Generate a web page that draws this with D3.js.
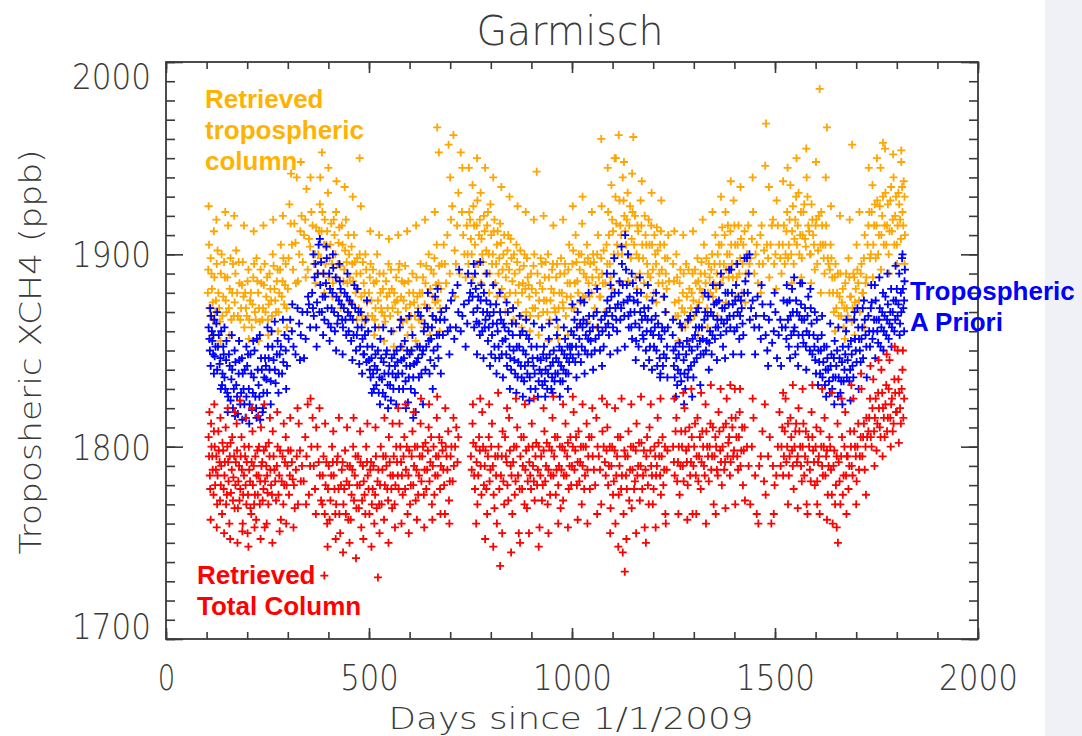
<!DOCTYPE html>
<html>
<head>
<meta charset="utf-8">
<script src="https://cdn.jsdelivr.net/npm/d3@7"></script>
<style>
  body { margin: 0; background: #fff; }
  svg { display: block; }
</style>
</head>
<body>
<div id="chart"></div>
<script>
// [day since 1/1/2009, XCH4 ppb]
const retrievedTrop = [
  [103,1880],[106,1905],[109,1868],[112,1890],[115,1875],[118,1912],[121,1870],[125,1895],[129,1880],[133,1865],[137,1900],[141,1878],[145,1888],[149,1870],[153,1915],[157,1882],[161,1866],[165,1895],[169,1875],[173,1902],[177,1868],[181,1885],[185,1872],[189,1896],[193,1862],
  [195,1880],[199,1868],[203,1892],[207,1876],[211,1862],[215,1888],[219,1870],[223,1898],[227,1880],[231,1865],[235,1885],[239,1872],[243,1895],[247,1878],[251,1866],[255,1890],[259,1876],[263,1900],[267,1882],[271,1870],[275,1892],[279,1880],[283,1905],[287,1886],[291,1874],[295,1895],[300,1882],
  [304,1926],[310,1905],[316,1916],[322,1940],[328,1900],[334,1920],[340,1910],[346,1934],[352,1908],[358,1922],[364,1895],[370,1914],
  [375,1900],[379,1926],[383,1912],[384,1953],[387,1890],[391,1918],[395,1905],[399,1932],[403,1898],[407,1916],[411,1885],[415,1910],[419,1922],[423,1895],[427,1914],[431,1880],[435,1905],[439,1892],[443,1918],[447,1885],[451,1900],[455,1875],[459,1895],[463,1910],[467,1880],[471,1898],[475,1872],[477,1950],[479,1890],[483,1868],[487,1885],[491,1900],[495,1875],
  [500,1880],[504,1895],[508,1868],[512,1885],[516,1872],[520,1900],[524,1862],[528,1880],[532,1870],[536,1890],[540,1865],[544,1878],[548,1895],[552,1868],[556,1882],[560,1860],[564,1875],
  [567,1888],[571,1870],[575,1895],[579,1878],[583,1865],[587,1885],[591,1872],[595,1858],[599,1880],[603,1868],[607,1890],[611,1875],[615,1855],[619,1878],[623,1866],[627,1895],[631,1880],[635,1862],[639,1885],[643,1872],[647,1900],[651,1882],[655,1868],[659,1890],[663,1875],[667,1905],[668,1966],[671,1885],[672,1953],[675,1872],[679,1895],
  [684,1905],[690,1885],[696,1957],[702,1918],[708,1962],[714,1895],[720,1932],[726,1953],[732,1910],[738,1888],
  [743,1900],[747,1922],[751,1908],[755,1936],[759,1915],[763,1895],[767,1928],[771,1910],[775,1932],[779,1900],[783,1920],[787,1890],[791,1915],[795,1900],[799,1926],[803,1895],[807,1912],[811,1885],[815,1905],[819,1890],[823,1916],[827,1882],[831,1900],[835,1878],[839,1895],[843,1910],[847,1880],[851,1898],[855,1872],[859,1890],[863,1905],[867,1875],[871,1892],[875,1868],[879,1885],[883,1900],[887,1870],[891,1888],[895,1878],
  [899,1890],[903,1872],[907,1900],[911,1880],[913,1943],[917,1868],[921,1885],[925,1895],[929,1870],[933,1888],[937,1876],[941,1900],[945,1866],[949,1882],[953,1895],[957,1872],[961,1888],[965,1862],[969,1880],[973,1898],[977,1875],[981,1890],[985,1868],[989,1885],[993,1905],[997,1878],[1001,1895],[1005,1872],[1009,1910],[1013,1886],[1017,1900],[1021,1875],[1025,1916],[1029,1890],[1033,1878],[1037,1905],[1041,1885],[1045,1895],
  [1048,1880],[1052,1900],[1056,1872],[1060,1892],[1064,1910],[1068,1878],[1072,1898],[1072,1960],[1076,1885],[1080,1870],
  [1085,1905],[1089,1922],[1093,1895],[1097,1936],[1101,1912],[1105,1950],[1109,1916],[1113,1900],[1115,1962],[1117,1928],[1121,1910],[1125,1940],[1129,1920],[1133,1905],[1137,1932],[1141,1915],[1145,1898],[1149,1922],[1151,1961],[1153,1905],[1157,1888],[1161,1915],[1165,1898],[1169,1928],[1173,1905],[1177,1885],[1181,1910],[1185,1895],[1189,1918],[1193,1888],[1197,1905],[1201,1880],[1205,1900],[1209,1914],[1213,1885],[1217,1905],[1221,1892],[1225,1878],[1229,1898],[1233,1882],[1237,1910],
  [1249,1895],[1253,1875],[1257,1900],[1261,1868],[1265,1885],[1269,1862],[1273,1880],[1277,1870],[1281,1895],[1285,1865],[1289,1882],[1293,1872],[1297,1890],[1301,1868],[1305,1885],[1309,1898],[1313,1875],[1317,1890],[1321,1880],[1325,1905],[1329,1885],[1333,1872],[1337,1895],[1341,1880],[1345,1900],[1349,1885],[1353,1910],[1357,1890],
  [1362,1905],[1366,1885],[1370,1914],[1374,1895],[1378,1922],[1382,1900],[1386,1888],[1390,1912],[1394,1895],[1398,1928],[1402,1905],[1406,1888],[1410,1915],[1414,1898],[1418,1880],[1422,1905],[1428,1890],[1434,1915],[1440,1898],[1446,1922],[1452,1900],[1458,1885],[1464,1910],[1470,1895],[1476,1946],[1478,1968],[1480,1905],[1486,1888],[1492,1915],[1498,1895],[1504,1928],[1510,1905],[1516,1890],[1522,1915],
  [1526,1900],[1530,1922],[1534,1905],[1538,1936],[1542,1912],[1546,1895],[1550,1918],[1554,1905],[1558,1932],[1562,1910],[1566,1898],[1570,1922],[1574,1908],[1578,1940],[1582,1915],[1586,1900],[1590,1926],[1594,1910],[1598,1892],[1602,1918],[1606,1902],[1610,1986],[1614,1922],[1618,1905],[1622,1890],[1626,1915],[1628,1966],[1630,1898],[1634,1880],
  [1637,1905],[1641,1888],[1645,1870],[1649,1895],[1653,1880],[1657,1868],[1661,1890],[1665,1875],[1669,1862],[1673,1885],[1677,1872],[1681,1898],[1685,1878],[1689,1865],[1690,1957],[1693,1890],[1697,1875],[1701,1905],[1705,1885],[1709,1870],[1713,1895],[1717,1880],[1721,1910],[1725,1888],
  [1728,1905],[1732,1922],[1736,1900],[1740,1936],[1744,1915],[1748,1898],[1752,1928],[1756,1910],[1760,1945],[1764,1920],[1766,1958],[1768,1905],[1772,1932],[1776,1915],[1780,1900],[1784,1928],[1788,1912],[1792,1940],[1796,1920],[1800,1905],[1804,1932],[1808,1918],[1811,1954],[1814,1922],[1817,1938],[1820,1910],
  [104,1892],[107,1872],[110,1898],[113,1882],[116,1866],[119,1888],[123,1876],[127,1902],[131,1872],[135,1890],[139,1868],[143,1896],[147,1876],[151,1888],[155,1872],[159,1898],[163,1880],[167,1868],[171,1890],[175,1880],[179,1896],[183,1866],[187,1884],[191,1878],
  [197,1872],[201,1886],[205,1866],[209,1880],[213,1874],[217,1895],[221,1866],[225,1886],[229,1872],[233,1892],[237,1866],[241,1884],[245,1870],[249,1888],[253,1874],[257,1882],[261,1868],[265,1894],[269,1876],[273,1886],[277,1870],[281,1892],[285,1878],[289,1898],[293,1884],[297,1872],
  [302,1898],[307,1916],[313,1892],[319,1906],[325,1886],[331,1912],[337,1896],[343,1918],[349,1892],[355,1904],[361,1915],[367,1900],
  [373,1890],[377,1912],[381,1898],[385,1922],[389,1905],[393,1895],[397,1912],[401,1888],[405,1905],[409,1895],[413,1918],[417,1900],[421,1888],[425,1906],[429,1894],[433,1915],[437,1886],[441,1902],[445,1896],[449,1910],[453,1888],[457,1904],[461,1886],[465,1896],[469,1890],[473,1882],[477,1900],[481,1878],[485,1896],[489,1880],[493,1892],[497,1868],
  [502,1888],[506,1876],[510,1892],[514,1866],[518,1886],[522,1876],[526,1890],[530,1872],[534,1882],[538,1868],[542,1886],[546,1872],[550,1880],[554,1892],[558,1872],[562,1880],
  [569,1876],[573,1892],[577,1866],[581,1886],[585,1876],[589,1894],[593,1866],[597,1886],[601,1874],[605,1862],[609,1880],[613,1868],[617,1888],[621,1872],[625,1880],[629,1866],[633,1888],[637,1874],[641,1894],[645,1880],[649,1872],[653,1892],[657,1878],[661,1898],[665,1884],[669,1876],[673,1894],[677,1882],
  [687,1895],[693,1910],[699,1890],[705,1925],[711,1902],[717,1915],[723,1890],[729,1922],[735,1900],
  [741,1915],[745,1895],[749,1918],[753,1900],[757,1925],[761,1905],[765,1915],[769,1895],[773,1918],[777,1908],[781,1896],[785,1912],[789,1902],[793,1922],[797,1890],[801,1910],[805,1900],[809,1918],[813,1895],[817,1912],[821,1898],[825,1906],[829,1892],[833,1910],[837,1888],[841,1902],[845,1892],[849,1908],[853,1886],[857,1900],[861,1880],[865,1896],[869,1884],[873,1902],[877,1880],[881,1894],[885,1882],[889,1898],[893,1884],[897,1868],
  [901,1882],[905,1894],[909,1872],[915,1890],[919,1876],[923,1898],[927,1882],[931,1876],[935,1896],[939,1870],[943,1888],[947,1876],[951,1892],[955,1880],[959,1870],[963,1895],[967,1872],[971,1890],[975,1880],[979,1872],[983,1895],[987,1878],[991,1892],[995,1885],[999,1872],[1003,1902],[1007,1885],[1011,1896],[1015,1880],[1019,1892],[1023,1900],[1027,1878],[1031,1896],[1035,1888],[1039,1898],[1043,1878],
  [1050,1888],[1054,1896],[1058,1884],[1062,1900],[1066,1888],[1070,1878],[1074,1890],[1078,1902],[1082,1885],
  [1087,1895],[1091,1910],[1095,1888],[1099,1918],[1103,1900],[1107,1930],[1111,1905],[1119,1915],[1123,1900],[1127,1928],[1131,1912],[1135,1918],[1139,1900],[1143,1925],[1147,1908],[1155,1920],[1159,1900],[1163,1912],[1167,1890],[1171,1915],[1175,1898],[1179,1920],[1183,1905],[1187,1890],[1191,1905],[1195,1915],[1199,1892],[1203,1910],[1207,1895],[1211,1902],[1215,1890],[1219,1912],[1223,1885],[1227,1905],[1231,1890],[1235,1898],[1239,1886],
  [1251,1886],[1255,1868],[1259,1888],[1263,1876],[1267,1892],[1271,1872],[1275,1890],[1279,1862],[1283,1878],[1287,1892],[1291,1866],[1295,1880],[1299,1876],[1303,1892],[1307,1872],[1311,1886],[1315,1882],[1319,1896],[1323,1878],[1327,1890],[1331,1898],[1335,1880],[1339,1888],[1343,1892],[1347,1878],[1351,1895],[1355,1882],[1359,1900],
  [1364,1895],[1368,1905],[1372,1888],[1376,1910],[1380,1892],[1384,1915],[1388,1900],[1392,1905],[1396,1888],[1400,1915],[1404,1895],[1408,1905],[1412,1890],[1416,1908],[1420,1895],[1425,1912],[1431,1900],[1437,1895],[1443,1908],[1449,1890],[1455,1905],[1461,1895],[1467,1915],[1473,1902],[1483,1898],[1489,1905],[1495,1918],[1501,1900],[1507,1915],[1513,1898],[1519,1905],[1524,1895],
  [1528,1912],[1532,1898],[1536,1918],[1540,1900],[1544,1925],[1548,1908],[1552,1930],[1556,1915],[1560,1900],[1564,1922],[1568,1910],[1572,1926],[1576,1904],[1580,1930],[1584,1912],[1588,1900],[1592,1918],[1596,1905],[1600,1915],[1604,1895],[1608,1920],[1612,1905],[1616,1915],[1620,1898],[1624,1905],[1632,1895],
  [1635,1892],[1639,1898],[1643,1880],[1647,1888],[1651,1872],[1655,1890],[1659,1878],[1663,1868],[1667,1882],[1671,1872],[1675,1890],[1679,1868],[1683,1888],[1687,1878],[1691,1872],[1695,1888],[1699,1882],[1703,1892],[1707,1876],[1711,1890],[1715,1880],[1719,1898],[1723,1885],
  [1730,1915],[1734,1898],[1738,1922],[1742,1905],[1746,1926],[1750,1915],[1754,1900],[1758,1925],[1762,1910],[1766,1930],[1770,1915],[1774,1905],[1778,1926],[1782,1912],[1786,1935],[1790,1918],[1794,1905],[1798,1930],[1802,1915],[1806,1926],[1810,1908],[1813,1935],[1816,1915],[1819,1930],
  [105,1925],[114,1858],[124,1918],[134,1855],[146,1922],[156,1858],[168,1920],[180,1855],[192,1915],[204,1856],[216,1912],[228,1855],[240,1915],[252,1858],[264,1918],[276,1860],[288,1920],[298,1862],
  [308,1942],[320,1885],[332,1948],[344,1888],[356,1940],[368,1885],
  [380,1940],[390,1880],[400,1945],[410,1878],[420,1938],[430,1872],[440,1935],[450,1870],[460,1930],[470,1866],[480,1925],[490,1865],
  [503,1912],[513,1858],[525,1910],[537,1855],[549,1908],[561,1852],
  [572,1910],[582,1852],[594,1912],[604,1850],[616,1915],[626,1852],[638,1918],[650,1858],[662,1922],[674,1860],
  [700,1940],[712,1878],[730,1945],
  [746,1945],[756,1888],[766,1950],[776,1885],[786,1945],[796,1880],[806,1940],[816,1878],[826,1935],[836,1870],[846,1930],[856,1866],[866,1925],[876,1862],[886,1922],[896,1860],
  [906,1918],[918,1858],[930,1920],[942,1855],[954,1915],[966,1856],[978,1918],[990,1858],[1002,1925],[1014,1862],[1026,1930],[1038,1865],[1049,1922],[1061,1862],[1073,1925],
  [1088,1945],[1098,1882],[1108,1950],[1118,1885],[1128,1948],[1138,1886],[1148,1942],[1160,1882],[1172,1938],[1184,1878],[1196,1932],[1208,1875],[1220,1928],[1232,1870],
  [1252,1912],[1262,1855],[1274,1910],[1286,1855],[1298,1912],[1310,1858],[1322,1918],[1334,1862],[1346,1922],[1358,1868],
  [1367,1930],[1379,1875],[1391,1938],[1403,1878],[1415,1935],[1427,1875],[1445,1940],[1465,1880],[1485,1935],[1503,1882],[1520,1938],
  [1531,1945],[1541,1885],[1553,1950],[1565,1888],[1577,1955],[1589,1885],[1601,1948],[1613,1880],[1625,1940],
  [1638,1925],[1648,1860],[1660,1920],[1672,1856],[1684,1918],[1696,1858],[1708,1922],[1720,1862],
  [1731,1945],[1741,1888],[1751,1950],[1761,1892],[1771,1955],[1781,1890],[1791,1952],[1801,1895],[1811,1948],[1819,1895]
];

const aPriori = [
  [105,1862],[108,1850],[111,1868],[114,1855],[117,1858],[120,1847],[124,1864],[128,1852],[132,1843],[136,1860],
  [139,1838],[142,1848],[146,1830],[149,1855],[153,1826],[157,1842],[161,1835],[165,1820],[169,1850],[173,1832],[177,1817],[181,1845],[185,1828],[189,1838],[193,1822],
  [196,1815],[200,1842],[204,1830],[208,1848],[212,1819],[216,1836],[220,1826],[224,1856],[228,1832],[232,1814],[236,1840],[240,1828],[244,1846],
  [247,1835],[251,1852],[255,1840],[260,1860],[265,1845],[270,1833],[275,1855],[280,1848],[286,1838],[292,1858],[298,1842],
  [306,1866],[314,1852],[324,1872],[332,1858],[340,1846],[348,1870],[355,1862],
  [360,1880],[364,1868],[368,1895],[372,1875],[376,1905],[380,1884],[384,1870],[388,1890],[392,1878],[396,1898],[400,1864],[404,1882],[408,1872],[412,1893],[416,1860],[420,1878],[424,1868],[428,1886],[432,1874],[436,1862],[440,1880],[444,1858],[448,1870],
  [452,1876],[456,1855],[460,1866],[464,1884],[468,1850],[472,1862],[476,1843],[480,1870],[484,1856],[488,1848],[492,1866],[496,1852],
  [500,1845],[504,1836],[508,1852],[512,1830],[516,1848],[520,1840],[524,1828],[528,1856],[532,1835],[536,1844],[540,1826],[544,1850],[548,1838],[552,1832],[556,1846],[560,1830],[564,1842],
  [568,1850],[572,1838],[576,1862],[580,1845],[584,1830],[588,1855],[592,1842],[596,1823],[600,1848],
  [603,1830],[607,1858],[611,1843],[615,1818],[619,1852],[623,1836],[627,1868],[631,1848],[635,1860],[639,1840],[643,1872],[647,1855],[651,1845],[655,1862],[659,1850],[663,1878],[667,1858],[671,1846],[675,1866],
  [682,1858],[690,1872],[698,1848],[706,1880],[714,1862],[722,1892],[730,1868],[738,1852],[746,1876],[752,1885],
  [757,1870],[761,1890],[765,1865],[769,1878],[773,1858],[777,1884],[781,1870],[785,1862],[789,1876],[793,1855],[797,1868],[801,1848],[805,1864],[809,1852],[813,1874],[817,1860],[821,1846],[825,1866],[829,1855],
  [834,1862],[838,1848],[842,1870],[846,1852],[850,1840],[854,1858],[858,1845],[862,1864],[866,1836],[870,1852],[874,1842],[878,1860],[882,1834],[886,1848],[890,1838],[894,1856],[898,1830],[903,1846],[908,1838],[913,1852],[918,1834],
  [923,1845],[927,1832],[931,1852],[935,1840],[939,1830],[943,1856],[947,1842],[951,1836],[955,1850],[959,1838],[963,1858],[967,1844],[971,1834],[975,1850],[979,1840],[983,1856],[987,1846],[991,1838],[995,1852],
  [998,1860],[1002,1846],[1006,1866],[1010,1852],[1014,1870],[1018,1856],[1022,1844],[1026,1862],[1030,1875],[1034,1858],[1038,1848],[1042,1868],[1046,1855],[1051,1862],[1056,1850],[1061,1870],[1066,1858],[1072,1866],[1078,1852],
  [1083,1862],[1087,1876],[1091,1858],[1095,1884],[1099,1868],[1103,1890],[1107,1872],[1111,1860],[1115,1880],[1119,1866],[1123,1895],[1127,1875],[1131,1910],[1135,1884],[1139,1868],
  [1142,1878],[1146,1862],[1150,1885],[1154,1870],[1158,1855],[1162,1875],[1166,1862],[1170,1880],[1174,1858],[1178,1872],[1182,1850],[1186,1866],[1190,1845],[1194,1860],[1198,1876],[1202,1852],[1206,1868],[1210,1842],[1214,1858],[1218,1838],[1222,1862],[1226,1848],[1230,1870],[1234,1852],
  [1248,1858],[1251,1842],[1255,1852],[1259,1832],[1263,1848],[1267,1838],[1271,1862],[1275,1845],[1279,1830],[1283,1855],[1287,1840],[1291,1868],[1295,1850],[1299,1836],[1303,1858],[1307,1846],[1311,1872],[1315,1855],
  [1320,1862],[1324,1848],[1328,1870],[1332,1855],[1336,1878],[1340,1860],[1344,1848],[1348,1868],[1352,1856],[1356,1875],[1360,1862],[1364,1884],[1368,1866],[1372,1852],[1376,1872],[1380,1860],[1384,1880],[1388,1868],[1392,1892],[1396,1874],[1400,1860],[1404,1884],[1408,1870],[1412,1856],[1416,1876],[1420,1864],[1424,1880],
  [1431,1898],[1435,1890],[1441,1872],[1449,1862],[1457,1878],[1465,1856],[1473,1868],[1481,1850],[1489,1874],[1497,1860],[1505,1846],[1513,1866],[1521,1876],
  [1526,1862],[1530,1875],[1534,1852],[1538,1868],[1542,1882],[1546,1860],[1550,1848],[1554,1870],[1558,1858],[1562,1885],[1566,1866],[1570,1854],[1574,1872],[1578,1860],[1582,1878],[1586,1850],[1590,1864],
  [1595,1858],[1599,1845],[1603,1866],[1607,1850],[1611,1838],[1615,1858],[1619,1844],[1623,1832],[1627,1852],[1631,1840],[1635,1828],[1639,1848],[1643,1836],[1647,1855],[1651,1842],[1655,1826],[1659,1846],[1663,1834],[1667,1852],[1671,1840],[1675,1860],[1679,1845],[1683,1834],[1687,1855],[1691,1842],[1695,1866],[1699,1850],[1703,1872],[1707,1856],[1711,1844],[1715,1862],[1719,1876],[1723,1858],
  [1730,1868],[1734,1852],[1738,1875],[1742,1860],[1746,1884],[1750,1866],[1754,1854],[1758,1872],[1762,1862],[1766,1880],[1770,1868],[1774,1858],[1778,1874],[1782,1864],[1786,1882],[1790,1870],[1794,1860],[1798,1876],[1802,1868],[1806,1890],[1810,1880],[1813,1898],[1816,1872],[1819,1886],
  [107,1856],[110,1842],[113,1860],[116,1848],[119,1866],[122,1852],[126,1840],[130,1858],[134,1846],[138,1832],[141,1852],[144,1836],[148,1845],[151,1828],[155,1848],[159,1824],[163,1840],[167,1830],[171,1844],[175,1826],[179,1838],[183,1822],[187,1846],[191,1830],[194,1840],
  [198,1826],[202,1848],[206,1822],[210,1838],[214,1828],[218,1850],[222,1820],[226,1840],[230,1826],[234,1846],[238,1818],[242,1836],[246,1842],[249,1828],[253,1846],[258,1834],[262,1852],[268,1840],[273,1848],[278,1838],[283,1852],[289,1844],[295,1850],[302,1856],
  [310,1860],[319,1848],[328,1864],[336,1870],[344,1856],[352,1874],
  [362,1872],[366,1888],[370,1862],[374,1890],[378,1870],[382,1896],[386,1878],[390,1866],[394,1885],[398,1872],[402,1890],[406,1862],[410,1880],[414,1870],[418,1888],[422,1864],[426,1876],[430,1882],[434,1866],[438,1872],[442,1866],[446,1878],[450,1860],
  [454,1868],[458,1874],[462,1858],[466,1872],[470,1858],[474,1870],[478,1852],[482,1862],[486,1848],[490,1858],[494,1844],[498,1860],
  [502,1840],[506,1846],[510,1838],[514,1842],[518,1832],[522,1850],[526,1836],[530,1846],[534,1828],[538,1838],[542,1848],[546,1832],[550,1842],[554,1824],[558,1838],[562,1848],[566,1836],
  [570,1844],[574,1830],[578,1852],[582,1838],[586,1846],[590,1834],[594,1850],[598,1836],[601,1842],
  [605,1850],[609,1836],[613,1828],[617,1844],[621,1846],[625,1852],[629,1838],[633,1850],[637,1864],[641,1852],[645,1862],[649,1838],[653,1856],[657,1868],[661,1842],[665,1866],[669,1852],[673,1858],[678,1870],
  [686,1866],[694,1860],[702,1876],[710,1856],[718,1884],[726,1860],[734,1874],[742,1864],[749,1880],
  [755,1878],[759,1862],[763,1882],[767,1872],[771,1864],[775,1876],[779,1860],[783,1880],[787,1866],[791,1870],[795,1862],[799,1874],[803,1858],[807,1870],[811,1846],[815,1864],[819,1852],[823,1870],[827,1848],[831,1864],
  [836,1856],[840,1842],[844,1860],[848,1846],[852,1864],[856,1850],[860,1838],[864,1852],[868,1844],[872,1858],[876,1836],[880,1850],[884,1842],[888,1858],[892,1844],[896,1836],[900,1852],[905,1842],[910,1830],[915,1846],[920,1840],
  [925,1838],[929,1848],[933,1834],[937,1846],[941,1838],[945,1848],[949,1830],[953,1844],[957,1834],[961,1846],[965,1838],[969,1852],[973,1842],[977,1834],[981,1848],[985,1838],[989,1852],[993,1844],[996,1848],
  [1000,1852],[1004,1858],[1008,1844],[1012,1862],[1016,1848],[1020,1864],[1024,1852],[1028,1866],[1032,1850],[1036,1864],[1040,1856],[1044,1860],[1048,1848],[1053,1868],[1058,1856],[1064,1862],[1069,1850],[1075,1860],[1081,1868],
  [1085,1870],[1089,1864],[1093,1872],[1097,1878],[1101,1862],[1105,1880],[1109,1866],[1113,1874],[1117,1886],[1121,1872],[1125,1884],[1129,1868],[1133,1892],[1137,1876],[1140,1862],
  [1144,1870],[1148,1856],[1152,1876],[1156,1864],[1160,1880],[1164,1852],[1168,1870],[1172,1866],[1176,1856],[1180,1868],[1184,1860],[1188,1872],[1192,1852],[1196,1866],[1200,1858],[1204,1862],[1208,1850],[1212,1864],[1216,1846],[1220,1856],[1224,1842],[1228,1860],[1232,1846],[1236,1862],
  [1250,1850],[1253,1836],[1257,1846],[1261,1840],[1265,1854],[1269,1834],[1273,1852],[1277,1838],[1281,1848],[1285,1836],[1289,1852],[1293,1842],[1297,1856],[1301,1844],[1305,1862],[1309,1852],[1313,1862],[1317,1848],
  [1322,1856],[1326,1866],[1330,1850],[1334,1868],[1338,1854],[1342,1870],[1346,1858],[1350,1874],[1354,1862],[1358,1866],[1362,1876],[1366,1858],[1370,1872],[1374,1864],[1378,1880],[1382,1866],[1386,1874],[1390,1862],[1394,1880],[1398,1868],[1402,1876],[1406,1862],[1410,1878],[1414,1868],[1418,1872],[1422,1858],[1427,1886],
  [1433,1880],[1438,1866],[1445,1876],[1453,1868],[1461,1862],[1469,1874],[1477,1858],[1485,1866],[1493,1854],[1501,1870],[1509,1858],[1517,1862],
  [1528,1856],[1532,1866],[1536,1876],[1540,1858],[1544,1870],[1548,1862],[1552,1876],[1556,1852],[1560,1868],[1564,1874],[1568,1858],[1572,1866],[1576,1852],[1580,1868],[1584,1858],[1588,1872],[1592,1848],
  [1597,1852],[1601,1838],[1605,1856],[1609,1844],[1613,1850],[1617,1836],[1621,1852],[1625,1840],[1629,1846],[1633,1834],[1637,1842],[1641,1830],[1645,1846],[1649,1836],[1653,1850],[1657,1836],[1661,1828],[1665,1844],[1669,1834],[1673,1848],[1677,1836],[1681,1852],[1685,1840],[1689,1848],[1693,1836],[1697,1856],[1701,1844],[1705,1862],[1709,1850],[1713,1856],[1717,1846],[1721,1866],[1725,1852],
  [1732,1860],[1736,1872],[1740,1856],[1744,1866],[1748,1876],[1752,1860],[1756,1866],[1760,1852],[1764,1870],[1768,1860],[1772,1878],[1776,1866],[1780,1856],[1784,1870],[1788,1862],[1792,1876],[1796,1866],[1800,1882],[1804,1874],[1808,1864],[1811,1870],[1815,1882],[1818,1876],[1820,1892],
  [109,1872],[118,1838],[126,1870],[135,1830],[144,1862],[152,1818],[162,1858],[170,1816],[180,1855],[188,1814],[198,1852],[205,1812],[215,1855],[223,1815],[231,1858],[239,1820],[250,1862],[258,1822],[268,1865],[277,1828],[288,1866],[296,1830],
  [311,1874],[330,1845],[350,1878],
  [363,1900],[371,1852],[379,1908],[387,1858],[395,1904],[403,1855],[411,1900],[419,1850],[427,1895],[435,1848],[447,1890],[459,1845],[471,1882],[483,1838],[495,1876],
  [507,1828],[515,1862],[527,1822],[535,1862],[547,1820],[555,1860],[567,1822],[579,1866],[591,1820],[599,1868],
  [609,1815],[621,1870],[633,1822],[645,1880],[657,1830],[669,1882],[677,1838],
  [700,1862],[720,1870],[744,1890],
  [758,1895],[766,1848],[774,1896],[782,1846],[790,1890],[798,1842],[806,1884],[814,1838],[822,1880],[830,1836],
  [839,1875],[847,1830],[855,1872],[863,1828],[871,1868],[879,1826],[887,1866],[895,1824],[906,1864],[916,1826],
  [926,1862],[934,1826],[944,1864],[952,1828],[962,1866],[970,1826],[980,1862],[990,1830],
  [1001,1874],[1011,1836],[1021,1876],[1031,1838],[1041,1880],[1052,1840],[1062,1882],[1074,1842],
  [1086,1890],[1094,1848],[1104,1898],[1112,1850],[1122,1904],[1130,1852],[1138,1900],
  [1147,1890],[1157,1845],[1167,1888],[1177,1842],[1187,1884],[1197,1840],[1207,1880],[1217,1836],[1227,1878],[1235,1836],
  [1249,1866],[1256,1826],[1266,1864],[1276,1822],[1286,1866],[1296,1826],[1306,1870],[1316,1832],
  [1327,1880],[1337,1840],[1347,1884],[1357,1845],[1367,1890],[1377,1846],[1387,1892],[1397,1848],[1407,1895],[1417,1848],[1425,1898],
  [1437,1900],[1451,1848],[1467,1884],[1483,1842],[1499,1880],[1515,1842],
  [1529,1884],[1537,1846],[1547,1888],[1557,1842],[1567,1885],[1577,1840],[1587,1882],
  [1598,1870],[1606,1832],[1616,1868],[1626,1826],[1636,1864],[1646,1822],[1656,1862],[1666,1822],[1676,1866],[1686,1824],[1696,1870],[1706,1830],[1716,1872],[1726,1836],
  [1737,1884],[1747,1846],[1757,1888],[1767,1850],[1777,1890],[1787,1852],[1797,1894],[1807,1858],[1814,1900],[1818,1860]
];

const totalColumn = [
  [105,1805],[108,1785],[111,1812],[114,1795],[117,1775],[120,1800],[123,1788],[126,1770],[129,1808],[132,1792],[135,1780],[138,1765],[141,1798],[144,1785],[147,1810],[150,1775],[153,1792],[156,1760],[159,1802],[162,1788],[165,1772],[168,1795],[171,1780],[174,1812],[177,1768],[180,1790],[183,1778],[186,1805],[189,1760],[192,1785],[195,1795],[198,1770],[201,1755],[204,1800],[207,1782],[210,1765],[213,1808],[216,1790],[219,1775],[222,1762],[225,1798],[228,1785],[231,1770],[234,1810],[237,1792],[240,1778],[243,1758],[246,1800],[249,1785],[252,1770],[255,1795],[259,1780],[263,1808],[267,1788],[271,1772],[275,1800],[279,1785],[283,1762],[287,1795],[291,1780],[295,1805],[299,1790],[303,1775],[307,1798],[312,1783],[317,1768],[322,1795],[327,1812],[332,1782],
  [335,1790],[343,1805],[349,1822],[355,1790],[361,1815],[367,1778],[373,1800],[379,1785],
  [385,1770],[388,1795],[390,1733],[393,1780],[397,1760],[401,1790],[405,1772],[409,1800],[413,1785],[417,1765],[421,1792],[425,1778],[429,1755],[433,1788],[437,1770],[441,1798],[445,1782],[449,1762],[453,1790],[457,1775],[461,1800],[465,1785],[469,1768],[473,1795],[477,1780],[481,1758],[485,1790],[489,1775],[493,1800],[497,1785],[501,1765],[505,1792],[509,1778],[513,1760],[517,1795],[521,1782],[522,1732],[525,1770],[529,1800],[533,1788],[537,1762],[541,1795],[545,1778],[549,1805],[553,1785],[557,1768],[561,1795],[565,1780],
  [567,1800],[571,1785],[575,1812],[579,1792],[583,1775],[587,1805],[591,1788],[595,1765],[599,1798],[603,1780],[607,1808],[611,1790],[615,1772],[619,1800],[623,1785],[627,1812],[631,1795],[635,1775],[639,1802],[643,1788],[647,1810],[651,1792],[655,1770],[659,1800],[663,1785],[667,1815],[671,1795],[675,1778],[679,1802],[683,1788],[687,1765],[691,1795],[695,1808],[699,1782],[703,1800],[709,1790],[715,1810],
  [751,1795],[755,1812],[759,1785],[763,1800],[767,1770],[771,1805],[775,1790],[779,1818],[783,1780],[787,1798],[791,1765],[795,1805],[799,1788],[803,1812],[807,1775],[811,1795],[815,1760],[819,1800],[823,1738],[825,1785],[829,1808],[833,1770],[837,1795],[841,1780],[845,1815],[849,1790],[853,1765],[857,1800],[861,1782],[865,1810],[869,1755],[873,1795],[877,1778],[881,1805],[885,1788],[889,1768],[893,1800],[897,1785],[901,1812],[904,1790],[908,1772],[912,1802],[916,1788],[920,1758],[924,1795],[928,1780],[932,1808],[936,1790],[940,1770],[944,1800],[948,1785],[952,1815],[956,1795],[960,1775],[964,1805],[968,1790],[972,1768],[976,1800],[980,1785],[984,1812],[988,1795],[992,1778],[996,1805],[1000,1790],[1004,1818],[1008,1798],[1012,1780],[1016,1808],[1020,1792],[1024,1770],[1028,1800],[1032,1785],[1036,1812],[1040,1795],[1044,1778],
  [1048,1805],[1054,1788],[1060,1815],[1066,1795],[1072,1770],[1078,1800],
  [1083,1785],[1087,1810],[1091,1790],[1095,1768],[1099,1800],[1103,1782],[1107,1760],[1111,1795],[1115,1775],[1119,1805],[1123,1785],[1125,1745],[1127,1765],[1130,1735],[1131,1795],[1135,1778],[1139,1808],[1143,1788],[1147,1768],[1151,1800],[1155,1782],[1159,1812],[1163,1790],[1167,1772],[1171,1802],[1175,1785],[1179,1758],[1183,1795],[1187,1780],[1191,1810],[1195,1790],[1199,1770],[1203,1800],[1207,1785],[1211,1815],[1215,1795],[1219,1775],[1223,1805],[1227,1788],[1231,1760],[1235,1798],
  [1249,1800],[1253,1785],[1257,1815],[1261,1792],[1265,1775],[1269,1808],[1273,1790],[1277,1820],[1281,1798],[1285,1780],[1289,1810],[1293,1792],[1297,1765],[1301,1800],[1305,1785],[1309,1815],[1313,1795],[1317,1778],[1321,1808],[1325,1790],[1329,1822],[1333,1800],[1337,1782],[1341,1812],[1345,1795],[1349,1770],[1353,1805],[1357,1788],[1361,1818],[1365,1798],[1369,1780],[1373,1810],[1377,1792],[1381,1825],[1385,1802],[1389,1785],[1393,1815],[1397,1795],[1401,1830],[1405,1805],[1409,1788],[1413,1818],[1417,1798],[1421,1780],[1425,1810],
  [1431,1800],[1439,1770],[1447,1815],[1455,1765],[1461,1790],[1469,1808],[1477,1775],[1483,1795],[1491,1760],[1499,1780],[1507,1800],
  [1514,1790],[1518,1810],[1522,1795],[1526,1825],[1530,1800],[1534,1785],[1538,1815],[1542,1798],[1546,1778],[1550,1808],[1554,1792],[1558,1820],[1562,1800],[1566,1782],[1570,1812],[1574,1795],[1578,1770],[1582,1805],[1586,1788],[1590,1818],[1594,1798],[1598,1780],[1602,1810],[1606,1792],[1610,1765],[1614,1800],[1618,1785],[1622,1815],[1626,1795],[1630,1775],[1634,1805],[1638,1788],[1642,1760],[1646,1798],[1650,1780],[1654,1812],[1655,1750],[1657,1792],[1661,1770],[1665,1805],[1669,1785],[1673,1818],[1677,1795],[1681,1778],[1685,1808],[1689,1790],[1693,1825],[1697,1800],[1701,1782],[1705,1812],[1709,1795],[1713,1830],[1717,1805],[1721,1788],[1725,1815],
  [1730,1808],[1734,1825],[1738,1800],[1742,1835],[1746,1815],[1750,1798],[1754,1828],[1758,1810],[1762,1840],[1766,1820],[1770,1805],[1774,1832],[1778,1815],[1782,1845],[1786,1822],[1790,1808],[1794,1835],[1798,1818],[1802,1850],[1806,1828],[1810,1812],[1814,1840],[1818,1825],
  [106,1795],[109,1778],[112,1800],[115,1788],[118,1808],[121,1780],[124,1795],[127,1785],[130,1798],[133,1772],[136,1790],[139,1802],[142,1778],[145,1792],[148,1770],[151,1800],[154,1782],[157,1795],[160,1776],[163,1805],[166,1784],[169,1768],[172,1792],[175,1798],[178,1782],[181,1772],[184,1795],[187,1788],[190,1775],[193,1800],[196,1780],[199,1792],[202,1775],[205,1788],[208,1768],[211,1792],[214,1780],[217,1770],[220,1795],[223,1785],[226,1775],[229,1800],[232,1782],[235,1790],[238,1772],[241,1798],[244,1782],[247,1790],[250,1776],[253,1802],[257,1788],[261,1775],[265,1795],[269,1782],[273,1790],[277,1775],[281,1798],[285,1782],[289,1770],[293,1792],[297,1780],[301,1798],[305,1785],[310,1792],[315,1780],[320,1788],[325,1770],[330,1798],
  [339,1782],[346,1795],[352,1775],[358,1800],[364,1790],[370,1810],[376,1792],[382,1772],
  [386,1785],[391,1765],[395,1792],[399,1778],[403,1762],[407,1785],[411,1792],[415,1778],[419,1770],[423,1795],[427,1765],[431,1780],[435,1792],[439,1778],[443,1765],[447,1790],[451,1780],[455,1762],[459,1788],[463,1772],[467,1795],[471,1780],[475,1768],[479,1792],[483,1772],[487,1782],[491,1765],[495,1792],[499,1778],[503,1788],[507,1770],[511,1790],[515,1775],[519,1768],[523,1788],[527,1780],[531,1770],[535,1795],[539,1780],[543,1790],[547,1772],[551,1792],[555,1778],[559,1785],[563,1770],
  [569,1792],[573,1778],[577,1800],[581,1785],[585,1795],[589,1778],[593,1800],[597,1785],[601,1770],[605,1795],[609,1780],[613,1800],[617,1788],[621,1775],[625,1795],[629,1782],[633,1800],[637,1788],[641,1778],[645,1798],[649,1782],[653,1805],[657,1790],[661,1775],[665,1795],[669,1785],[673,1805],[677,1790],[681,1798],[685,1780],[689,1800],[693,1788],[697,1772],[701,1795],[706,1782],[712,1800],[718,1792],
  [753,1788],[757,1802],[761,1778],[765,1792],[769,1785],[773,1798],[777,1775],[781,1800],[785,1790],[789,1778],[793,1795],[797,1782],[801,1800],[805,1790],[809,1768],[813,1785],[817,1795],[821,1778],[827,1795],[831,1782],[835,1805],[839,1792],[843,1772],[847,1798],[851,1785],[855,1792],[859,1775],[863,1800],[867,1785],[871,1778],[875,1805],[879,1790],[883,1770],[887,1798],[891,1782],[895,1792],[899,1778],[903,1800],[906,1782],[910,1795],[914,1780],[918,1800],[922,1785],[926,1772],[930,1798],[934,1782],[938,1802],[942,1788],[946,1775],[950,1798],[954,1785],[958,1805],[962,1788],[966,1780],[970,1800],[974,1788],[978,1772],[982,1798],[986,1785],[990,1802],[994,1790],[998,1780],[1002,1800],[1006,1788],[1010,1805],[1014,1792],[1018,1782],[1022,1800],[1026,1790],[1030,1778],[1034,1800],[1038,1788],[1042,1805],
  [1051,1795],[1057,1780],[1063,1800],[1069,1788],[1075,1808],[1081,1792],
  [1085,1798],[1089,1780],[1093,1800],[1097,1790],[1101,1775],[1105,1798],[1109,1785],[1113,1805],[1117,1790],[1121,1778],[1129,1798],[1133,1785],[1137,1795],[1141,1772],[1145,1800],[1149,1788],[1153,1778],[1157,1798],[1161,1785],[1165,1802],[1169,1790],[1173,1778],[1177,1798],[1181,1788],[1185,1805],[1189,1770],[1193,1798],[1197,1785],[1201,1778],[1205,1795],[1209,1790],[1213,1802],[1217,1785],[1221,1795],[1225,1780],[1229,1800],[1233,1788],
  [1251,1792],[1255,1808],[1259,1782],[1263,1800],[1267,1790],[1271,1800],[1275,1782],[1279,1808],[1283,1792],[1287,1800],[1291,1785],[1295,1805],[1299,1790],[1303,1812],[1307,1795],[1311,1782],[1315,1805],[1319,1792],[1323,1800],[1327,1785],[1331,1808],[1335,1795],[1339,1800],[1343,1788],[1347,1810],[1351,1795],[1355,1800],[1359,1785],[1363,1808],[1367,1792],[1371,1800],[1375,1788],[1379,1812],[1383,1795],[1387,1805],[1391,1792],[1395,1810],[1399,1798],[1403,1815],[1407,1795],[1411,1805],[1415,1790],[1419,1810],[1423,1798],
  [1435,1790],[1443,1800],[1451,1785],[1465,1795],[1473,1782],[1487,1805],[1495,1790],[1503,1785],
  [1516,1800],[1520,1785],[1524,1808],[1528,1792],[1532,1812],[1536,1795],[1540,1805],[1544,1790],[1548,1800],[1552,1812],[1556,1795],[1560,1808],[1564,1790],[1568,1800],[1572,1785],[1576,1808],[1580,1792],[1584,1800],[1588,1782],[1592,1805],[1596,1792],[1600,1800],[1604,1782],[1608,1795],[1612,1808],[1616,1790],[1620,1800],[1624,1785],[1628,1798],[1632,1790],[1636,1800],[1640,1775],[1644,1790],[1648,1770],[1652,1795],[1659,1782],[1663,1795],[1667,1775],[1671,1800],[1675,1785],[1679,1795],[1683,1790],[1687,1800],[1691,1785],[1695,1808],[1699,1795],[1703,1800],[1707,1788],[1711,1805],[1715,1795],[1719,1812],[1723,1800],[1727,1805],
  [1732,1815],[1736,1805],[1740,1820],[1744,1808],[1748,1825],[1752,1812],[1756,1820],[1760,1805],[1764,1828],[1768,1815],[1772,1822],[1776,1808],[1780,1830],[1784,1815],[1788,1825],[1792,1812],[1796,1828],[1800,1818],[1804,1835],[1808,1820],[1812,1830],[1816,1815],
  [107,1818],[110,1762],[119,1822],[125,1758],[134,1815],[143,1755],[152,1820],[158,1752],[170,1818],[176,1750],[182,1824],[188,1756],[197,1815],[203,1748],[212,1820],[218,1758],[227,1816],[233,1752],[242,1822],[248,1760],[256,1815],[262,1750],[274,1818],[280,1756],[290,1812],[296,1760],[306,1815],[314,1758],[324,1820],[345,1770],[356,1825],[369,1765],[378,1820],
  [392,1812],[398,1748],[412,1808],[418,1752],[426,1815],[436,1745],[446,1810],[452,1750],[462,1815],[468,1742],[478,1808],[486,1752],[496,1812],[506,1748],[516,1810],[526,1755],[538,1815],[548,1750],[558,1812],[564,1758],
  [572,1820],[580,1760],[590,1822],[598,1755],[610,1818],[618,1762],[628,1825],[636,1758],[648,1822],[656,1762],[668,1826],[676,1765],[688,1820],[698,1760],[708,1815],[720,1805],
  [756,1822],[764,1760],[774,1825],[786,1752],[796,1822],[806,1748],[818,1828],[828,1755],[840,1820],[850,1745],[862,1825],[872,1750],[884,1822],[894,1755],[906,1825],[918,1748],[930,1820],[942,1755],[954,1826],[966,1760],[978,1822],[990,1758],[1002,1826],[1014,1762],[1026,1822],[1038,1760],[1050,1820],[1062,1765],[1074,1825],
  [1086,1822],[1094,1755],[1106,1820],[1114,1748],[1122,1825],[1134,1752],[1146,1822],[1158,1755],[1170,1826],[1182,1750],[1194,1822],[1206,1758],[1218,1825],[1230,1765],
  [1252,1825],[1262,1765],[1274,1828],[1284,1762],[1294,1830],[1306,1765],[1318,1828],[1330,1760],[1342,1832],[1354,1765],[1366,1830],[1378,1768],[1390,1832],[1402,1770],[1414,1830],[1426,1772],
  [1445,1825],[1459,1760],[1475,1822],[1497,1765],[1511,1818],
  [1520,1828],[1532,1770],[1544,1832],[1556,1768],[1568,1830],[1580,1765],[1592,1832],[1604,1770],[1616,1830],[1628,1762],[1640,1828],[1652,1758],[1664,1825],[1676,1765],[1688,1832],[1700,1770],[1712,1838],[1724,1775],
  [1735,1842],[1745,1790],[1755,1845],[1765,1795],[1775,1848],[1785,1800],[1795,1852],[1805,1802],[1815,1850]
];

const xTicks = [0, 500, 1000, 1500, 2000];
const yTicks = [1700, 1800, 1900, 2000];
const xMinor = [0,100,200,300,400,500,600,700,800,900,1000,1100,1200,1300,1400,1500,1600,1700,1800,1900,2000];
const yMinor = [1700,1710,1720,1730,1740,1750,1760,1770,1780,1790,1800,1810,1820,1830,1840,1850,1860,1870,1880,1890,1900,1910,1920,1930,1940,1950,1960,1970,1980,1990,2000];

const width = 1082, height = 736;
const plotLeft = 166, plotRight = 978, plotTop = 62, plotBottom = 639;
const axisFont = "'DejaVu Sans', sans-serif";
const inkColor = "#3a3a3a";

const svg = d3.select("#chart").append("svg")
  .attr("width", width)
  .attr("height", height);

svg.append("rect").attr("width", width).attr("height", height).attr("fill", "#fff");
// grey strip of the slide on the right
svg.append("rect").attr("x", 1045).attr("y", 0).attr("width", width - 1045).attr("height", height).attr("fill", "#eff1f7");

const x = d3.scaleLinear().domain([0, 2000]).range([plotLeft, plotRight]);
const y = d3.scaleLinear().domain([1700, 2000]).range([plotBottom, plotTop]);

// points
const cross = "M-4,0H4M0,-4V4";
function plotSeries(data, color, cls) {
  svg.append("g")
    .attr("class", cls)
    .selectAll("path")
    .data(data)
    .join("path")
    .attr("d", cross)
    .attr("transform", d => `translate(${x(d[0])},${y(d[1])})`)
    .attr("stroke", color)
    .attr("stroke-width", 1.8)
    .attr("fill", "none");
}
plotSeries(retrievedTrop, "#ffa500", "trop");
plotSeries(aPriori, "#0000ff", "apriori");
plotSeries(totalColumn, "#ff0000", "total");

// axes: ticks point inward on all four sides
function styleAxis(g) {
  g.select(".domain").remove();
  g.selectAll(".tick line").attr("stroke", inkColor).attr("stroke-width", 1.6);
}
svg.append("g").attr("transform", `translate(0,${plotBottom})`)
  .call(d3.axisBottom(x).tickValues(xMinor).tickSize(-7).tickFormat(""))
  .call(styleAxis);
svg.append("g").attr("transform", `translate(0,${plotTop})`)
  .call(d3.axisTop(x).tickValues(xMinor).tickSize(-7).tickFormat(""))
  .call(styleAxis);
svg.append("g").attr("transform", `translate(0,${plotTop})`)
  .call(d3.axisTop(x).tickValues(xTicks).tickSize(-11).tickFormat(""))
  .call(styleAxis);
svg.append("g").attr("transform", `translate(${plotLeft},0)`)
  .call(d3.axisLeft(y).tickValues(yMinor).tickSize(-9).tickFormat(""))
  .call(styleAxis);
svg.append("g").attr("transform", `translate(${plotRight},0)`)
  .call(d3.axisRight(y).tickValues(yMinor).tickSize(-9).tickFormat(""))
  .call(styleAxis);
svg.append("g").attr("transform", `translate(${plotRight},0)`)
  .call(d3.axisRight(y).tickValues(yTicks).tickSize(-17).tickFormat(""))
  .call(styleAxis);

const xAxis = svg.append("g").attr("transform", `translate(0,${plotBottom})`)
  .call(d3.axisBottom(x).tickValues(xTicks).tickSize(-11).tickFormat(d3.format("d")))
  .call(styleAxis);
xAxis.selectAll("text")
  .attr("y", 51).attr("dy", null)
  .attr("textLength", d => String(d).length * 20.5 - 3)
  .attr("lengthAdjust", "spacingAndGlyphs");

const yAxis = svg.append("g").attr("transform", `translate(${plotLeft},0)`)
  .call(d3.axisLeft(y).tickValues(yTicks).tickSize(-17).tickFormat(d3.format("d")))
  .call(styleAxis);
yAxis.selectAll("text")
  .attr("x", -15)
  .attr("dy", d => d === 2000 ? "0.75em" : d === 1700 ? "-0.02em" : "0.36em")
  .attr("textLength", 79)
  .attr("lengthAdjust", "spacingAndGlyphs");

[xAxis, yAxis].forEach(g => g.selectAll("text")
  .attr("fill", inkColor)
  .style("font-family", axisFont)
  .style("font-weight", 200)
  .style("font-size", "35px"));

// frame
svg.append("rect")
  .attr("x", plotLeft).attr("y", plotTop)
  .attr("width", plotRight - plotLeft).attr("height", plotBottom - plotTop)
  .attr("fill", "none").attr("stroke", inkColor).attr("stroke-width", 1.8);

// titles
svg.append("text")
  .attr("x", 570).attr("y", 45)
  .attr("text-anchor", "middle")
  .attr("textLength", 187).attr("lengthAdjust", "spacingAndGlyphs")
  .style("font-family", axisFont).style("font-weight", 200).style("font-size", "40px")
  .attr("fill", inkColor)
  .text("Garmisch");

svg.append("text")
  .attr("x", 571).attr("y", 729)
  .attr("text-anchor", "middle")
  .attr("textLength", 365).attr("lengthAdjust", "spacingAndGlyphs")
  .style("font-family", axisFont).style("font-weight", 200).style("font-size", "31px")
  .attr("fill", inkColor)
  .text("Days since 1/1/2009");

svg.append("text")
  .attr("transform", "translate(41,352) rotate(-90)")
  .attr("text-anchor", "middle")
  .attr("textLength", 405).attr("lengthAdjust", "spacingAndGlyphs")
  .style("font-family", axisFont).style("font-weight", 200).style("font-size", "31px")
  .attr("fill", inkColor)
  .text("Troposheric XCH4 (ppb)");

// series labels
function label(lines, x0, y0, color) {
  const t = svg.append("text")
    .style("font-family", "'Liberation Sans', Arial, sans-serif")
    .style("font-weight", "bold")
    .style("font-size", "26px")
    .attr("fill", color);
  lines.forEach((s, i) => {
    t.append("tspan").attr("x", x0).attr("y", y0 + i * 31).text(s);
  });
}
label(["Retrieved", "tropospheric", "column"], 205, 108, "#ffb300");
label(["Retrieved", "Total Column"], 197, 584, "#ff0000");
label(["Tropospheric", "A Priori"], 910, 300, "#0000ff");
</script>
</body>
</html>
